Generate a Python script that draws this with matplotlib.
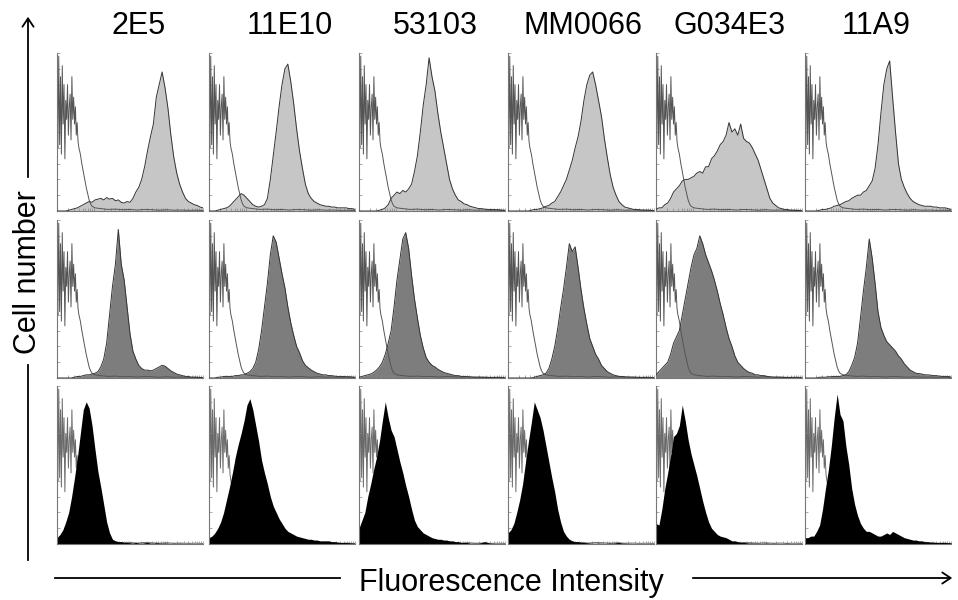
import numpy as np
import matplotlib
matplotlib.use("Agg")
import matplotlib.pyplot as plt

plt.rcParams['font.family'] = ['Liberation Sans', 'DejaVu Sans']

# antibody clones (columns)
clones = ["2E5", "11E10", "53103", "MM0066", "G034E3", "11A9"]

# fluorescence channel (fraction of the log axis), shared by every histogram
channel = np.linspace(0, 1, 51)

# isotype control (open histogram), same in every panel
ctrl_x = [0.000, 0.006, 0.012, 0.018, 0.024, 0.030, 0.036, 0.042, 0.048, 0.054,
          0.060, 0.066, 0.072, 0.078, 0.084, 0.090, 0.096, 0.102, 0.108, 0.114,
          0.120, 0.126, 0.132, 0.138, 0.144, 0.150, 0.160, 0.170, 0.180, 0.190,
          0.200, 0.210, 0.220, 0.230, 0.240, 0.260, 0.300, 0.350, 0.400, 0.450,
          0.500, 0.550, 0.600, 0.650, 0.700, 0.750, 0.800, 0.850, 0.900, 0.950, 1.000]
ctrl_y = [0.45, 0.40, 0.98, 0.42, 0.85, 0.36, 0.92, 0.55, 0.80, 0.33,
          0.70, 0.58, 0.80, 0.48, 0.66, 0.74, 0.45, 0.85, 0.58, 0.72,
          0.55, 0.66, 0.48, 0.56, 0.44, 0.40, 0.36, 0.30, 0.25, 0.20,
          0.15, 0.11, 0.07, 0.045, 0.03, 0.02, 0.015, 0.01, 0.012, 0.008,
          0.01, 0.006, 0.01, 0.008, 0.005, 0.008, 0.005, 0.006, 0.004, 0.005, 0.003]

# row 1: light grey histograms
row1 = {
    "2E5": [0, 0, 0, 0, 0.005, 0.01, 0.015, 0.02, 0.03, 0.04,
            0.05, 0.06, 0.055, 0.07, 0.075, 0.08, 0.07, 0.085, 0.075, 0.08,
            0.065, 0.07, 0.055, 0.05, 0.06, 0.055, 0.08, 0.12, 0.15, 0.2,
            0.28, 0.38, 0.47, 0.55, 0.72, 0.80, 0.88, 0.78, 0.65, 0.48,
            0.34, 0.24, 0.17, 0.12, 0.08, 0.06, 0.05, 0.04, 0.035, 0.025, 0.02],
    "11E10": [0, 0, 0, 0.005, 0.01, 0.015, 0.02, 0.03, 0.05, 0.07,
              0.09, 0.11, 0.10, 0.08, 0.06, 0.04, 0.03, 0.025, 0.03, 0.04,
              0.08, 0.20, 0.35, 0.50, 0.66, 0.80, 0.90, 0.93, 0.82, 0.68,
              0.52, 0.38, 0.27, 0.17, 0.11, 0.08, 0.06, 0.05, 0.04, 0.035,
              0.03, 0.03, 0.025, 0.025, 0.02, 0.02, 0.02, 0.02, 0.015, 0.015, 0.01],
    "53103": [0, 0, 0, 0, 0, 0, 0, 0.005, 0.01, 0.02,
              0.04, 0.08, 0.10, 0.12, 0.11, 0.13, 0.12, 0.14, 0.17, 0.25,
              0.35, 0.50, 0.67, 0.80, 0.97, 0.85, 0.76, 0.62, 0.50, 0.40,
              0.30, 0.20, 0.14, 0.10, 0.07, 0.06, 0.045, 0.04, 0.03, 0.025,
              0.02, 0.015, 0.015, 0.012, 0.01, 0.01, 0.01, 0.008, 0.008, 0.005, 0.005],
    "MM0066": [0, 0, 0, 0, 0, 0, 0, 0, 0.005, 0.01,
               0.01, 0.015, 0.02, 0.03, 0.035, 0.05, 0.06, 0.09, 0.12, 0.16,
               0.20, 0.26, 0.32, 0.40, 0.47, 0.57, 0.70, 0.80, 0.86, 0.88,
               0.80, 0.70, 0.60, 0.46, 0.34, 0.23, 0.15, 0.10, 0.06, 0.04,
               0.025, 0.02, 0.015, 0.01, 0.01, 0.008, 0.006, 0.005, 0.005, 0.004, 0.003],
    "G034E3": [0.01, 0.02, 0.02, 0.04, 0.05, 0.08, 0.12, 0.14, 0.16, 0.19,
               0.20, 0.20, 0.21, 0.22, 0.24, 0.25, 0.24, 0.28, 0.28, 0.33,
               0.35, 0.38, 0.42, 0.44, 0.48, 0.56, 0.50, 0.52, 0.48, 0.55,
               0.46, 0.44, 0.43, 0.40, 0.36, 0.32, 0.26, 0.20, 0.14, 0.08,
               0.05, 0.035, 0.02, 0.015, 0.01, 0.01, 0.005, 0.005, 0.003, 0.003, 0.002],
    "11A9": [0, 0, 0, 0, 0, 0.005, 0.01, 0.01, 0.015, 0.02,
             0.03, 0.035, 0.04, 0.05, 0.06, 0.065, 0.08, 0.09, 0.10, 0.10,
             0.12, 0.13, 0.16, 0.19, 0.27, 0.42, 0.62, 0.80, 0.90, 0.95,
             0.72, 0.50, 0.30, 0.20, 0.15, 0.11, 0.08, 0.06, 0.05, 0.04,
             0.035, 0.03, 0.03, 0.03, 0.025, 0.025, 0.02, 0.02, 0.02, 0.015, 0.01],
}

# row 2: dark grey histograms
row2 = {
    "2E5": [0, 0, 0, 0, 0, 0, 0.005, 0.01, 0.01, 0.015,
            0.02, 0.02, 0.025, 0.03, 0.04, 0.07, 0.12, 0.22, 0.40, 0.58,
            0.72, 0.94, 0.72, 0.62, 0.45, 0.28, 0.17, 0.12, 0.08, 0.06,
            0.05, 0.05, 0.045, 0.05, 0.06, 0.07, 0.08, 0.075, 0.06, 0.045,
            0.035, 0.025, 0.02, 0.015, 0.01, 0.01, 0.005, 0.005, 0.004, 0.003, 0.002],
    "11E10": [0, 0, 0, 0.005, 0.005, 0.01, 0.01, 0.01, 0.01, 0.015,
              0.015, 0.02, 0.02, 0.03, 0.04, 0.06, 0.10, 0.18, 0.30, 0.45,
              0.60, 0.78, 0.90, 0.86, 0.76, 0.66, 0.57, 0.45, 0.35, 0.27,
              0.20, 0.16, 0.11, 0.08, 0.065, 0.05, 0.04, 0.03, 0.025, 0.02,
              0.02, 0.015, 0.015, 0.012, 0.01, 0.01, 0.01, 0.008, 0.008, 0.006, 0.005],
    "53103": [0.005, 0.01, 0.015, 0.02, 0.025, 0.035, 0.05, 0.07, 0.10, 0.15,
              0.22, 0.30, 0.45, 0.62, 0.75, 0.88, 0.92, 0.82, 0.65, 0.50,
              0.38, 0.27, 0.19, 0.13, 0.10, 0.08, 0.07, 0.055, 0.045, 0.035,
              0.03, 0.025, 0.02, 0.015, 0.015, 0.01, 0.01, 0.008, 0.006, 0.005,
              0.005, 0.005, 0.004, 0.004, 0.003, 0.003, 0.003, 0.002, 0.002, 0.002, 0.002],
    "MM0066": [0, 0, 0, 0, 0, 0, 0, 0, 0, 0.005,
               0.01, 0.015, 0.02, 0.03, 0.06, 0.12, 0.20, 0.31, 0.44, 0.56,
               0.70, 0.85, 0.80, 0.83, 0.70, 0.56, 0.44, 0.34, 0.25, 0.20,
               0.15, 0.12, 0.08, 0.06, 0.04, 0.03, 0.02, 0.015, 0.01, 0.01,
               0.008, 0.006, 0.005, 0.005, 0.004, 0.004, 0.003, 0.003, 0.002, 0.002, 0.002],
    "G034E3": [0.02, 0.04, 0.06, 0.08, 0.10, 0.15, 0.22, 0.26, 0.30, 0.40,
               0.50, 0.60, 0.70, 0.78, 0.82, 0.90, 0.85, 0.78, 0.73, 0.68,
               0.62, 0.55, 0.47, 0.40, 0.32, 0.25, 0.20, 0.14, 0.10, 0.08,
               0.06, 0.045, 0.035, 0.03, 0.02, 0.02, 0.015, 0.015, 0.01, 0.008,
               0.006, 0.005, 0.005, 0.004, 0.003, 0.003, 0.003, 0.002, 0.002, 0.002, 0.002],
    "11A9": [0, 0, 0, 0, 0, 0.005, 0.005, 0.005, 0.008, 0.008,
             0.01, 0.01, 0.01, 0.015, 0.02, 0.04, 0.08, 0.13, 0.22, 0.38,
             0.55, 0.70, 0.88, 0.76, 0.60, 0.42, 0.32, 0.27, 0.23, 0.21,
             0.19, 0.17, 0.14, 0.12, 0.09, 0.07, 0.05, 0.04, 0.03, 0.028,
             0.025, 0.02, 0.02, 0.018, 0.015, 0.015, 0.012, 0.01, 0.01, 0.01, 0.005],
}

# row 3: black histograms
row3 = {
    "2E5": [0.04, 0.06, 0.09, 0.14, 0.20, 0.30, 0.42, 0.55, 0.70, 0.85,
            0.90, 0.86, 0.75, 0.60, 0.46, 0.36, 0.25, 0.14, 0.07, 0.03,
            0.02, 0.015, 0.015, 0.01, 0.01, 0.008, 0.006, 0.01, 0.006, 0.005,
            0.008, 0.01, 0.006, 0.005, 0.008, 0.006, 0.005, 0.006, 0.005, 0.004,
            0.005, 0.004, 0.005, 0.004, 0.003, 0.004, 0.003, 0.003, 0.002, 0.002, 0.002],
    "11E10": [0.04, 0.05, 0.07, 0.10, 0.14, 0.20, 0.28, 0.36, 0.45, 0.55,
              0.63, 0.70, 0.78, 0.88, 0.92, 0.85, 0.75, 0.65, 0.53, 0.45,
              0.38, 0.30, 0.24, 0.20, 0.16, 0.13, 0.10, 0.08, 0.07, 0.06,
              0.05, 0.045, 0.04, 0.035, 0.03, 0.03, 0.025, 0.025, 0.02, 0.02,
              0.02, 0.02, 0.015, 0.015, 0.012, 0.01, 0.01, 0.01, 0.008, 0.006, 0.005],
    "53103": [0.10, 0.15, 0.20, 0.30, 0.38, 0.47, 0.55, 0.65, 0.78, 0.90,
              0.80, 0.72, 0.68, 0.60, 0.52, 0.45, 0.37, 0.30, 0.22, 0.15,
              0.11, 0.09, 0.07, 0.06, 0.05, 0.04, 0.035, 0.03, 0.03, 0.025,
              0.025, 0.02, 0.02, 0.015, 0.015, 0.01, 0.01, 0.01, 0.005, 0.005,
              0.005, 0.005, 0.01, 0.015, 0.01, 0.005, 0.004, 0.003, 0.002, 0.002, 0.002],
    "MM0066": [0.07, 0.09, 0.13, 0.20, 0.28, 0.38, 0.52, 0.65, 0.77, 0.90,
               0.85, 0.80, 0.72, 0.62, 0.52, 0.42, 0.33, 0.22, 0.14, 0.08,
               0.05, 0.03, 0.02, 0.015, 0.015, 0.01, 0.01, 0.008, 0.006, 0.005,
               0.005, 0.006, 0.005, 0.004, 0.005, 0.006, 0.005, 0.008, 0.01, 0.006,
               0.005, 0.004, 0.004, 0.003, 0.003, 0.003, 0.002, 0.002, 0.002, 0.002, 0.002],
    "G034E3": [0.13, 0.12, 0.22, 0.35, 0.45, 0.56, 0.68, 0.70, 0.75, 0.88,
               0.78, 0.66, 0.57, 0.50, 0.43, 0.35, 0.27, 0.20, 0.14, 0.10,
               0.08, 0.06, 0.05, 0.045, 0.04, 0.03, 0.02, 0.02, 0.015, 0.01,
               0.01, 0.008, 0.006, 0.006, 0.005, 0.005, 0.004, 0.005, 0.006, 0.004,
               0.005, 0.004, 0.004, 0.003, 0.004, 0.005, 0.003, 0.002, 0.002, 0.002, 0.002],
    "11A9": [0.04, 0.04, 0.05, 0.05, 0.08, 0.12, 0.22, 0.35, 0.47, 0.62,
             0.80, 0.95, 0.82, 0.78, 0.62, 0.50, 0.35, 0.25, 0.18, 0.13,
             0.10, 0.08, 0.08, 0.07, 0.06, 0.05, 0.05, 0.06, 0.07, 0.06,
             0.08, 0.07, 0.06, 0.05, 0.04, 0.035, 0.03, 0.025, 0.025, 0.02,
             0.02, 0.015, 0.015, 0.012, 0.012, 0.01, 0.01, 0.01, 0.01, 0.008, 0.008],
}

rows = [row1, row2, row3]
fill_colors = ["#c6c6c6", "#7d7d7d", "#000000"]

W, H = 958, 600
fig = plt.figure(figsize=(W / 100, H / 100), dpi=100)

panel_left = [57, 209, 359, 508, 656, 805]
panel_w = 146
row_top = [53, 220, 386]
panel_h = 158

# log-decade style ticks along the fluorescence axis
xt = [(d + np.log10(k)) / 4 for d in range(4) for k in range(1, 10)] + [1.0]
yt = np.linspace(0, 1, 11)

for r, data in enumerate(rows):
    for c, name in enumerate(clones):
        ax = fig.add_axes([panel_left[c] / W, 1 - (row_top[r] + panel_h) / H,
                           panel_w / W, panel_h / H])
        y = np.array(data[name])
        if r == 2:
            ax.plot(ctrl_x, ctrl_y, color="#6a6a6a", lw=0.7, zorder=1)
            ax.fill_between(channel, 0, y, color=fill_colors[r], lw=0, zorder=2)
        else:
            ax.fill_between(channel, 0, y, color=fill_colors[r], lw=0, zorder=1)
            ax.plot(ctrl_x, ctrl_y, color="#555555", lw=0.7, zorder=2)
            ax.plot(channel, y, color="#333333", lw=0.7, zorder=3)
        ax.set_xlim(0, 1)
        ax.set_ylim(0, 1)
        for s in ["top", "right"]:
            ax.spines[s].set_visible(False)
        for s in ["left", "bottom"]:
            ax.spines[s].set_color("#777777")
            ax.spines[s].set_linewidth(0.8)
        ax.set_xticks(xt)
        ax.set_yticks(yt)
        ax.tick_params(direction="in", length=2, width=0.5, colors="#888888",
                       labelbottom=False, labelleft=False)

# column titles
title_x = [139, 290, 435, 583, 730, 876]
for name, tx in zip(clones, title_x):
    fig.text(tx / W, 1 - 34 / H, name, fontsize=22, ha="center", va="baseline")

# y axis label with arrow
fig.text(28 / W, 1 - 272 / H, "Cell number", fontsize=22, rotation=90,
         ha="center", va="center")
fig.add_artist(plt.Line2D([28 / W, 28 / W], [1 - 560 / H, 1 - 365 / H],
                          color="black", lw=1.3))
fig.patches.append(matplotlib.patches.FancyArrowPatch(
    (28 / W, 1 - 180 / H), (28 / W, 1 - 14 / H), transform=fig.transFigure,
    arrowstyle="->,head_length=6,head_width=4", color="black", lw=1.3))

# x axis label with arrow
fig.text(511 / W, 1 - 583 / H, "Fluorescence Intensity", fontsize=22,
         ha="center", va="center")
fig.add_artist(plt.Line2D([55 / W, 340 / W], [1 - 578 / H, 1 - 578 / H],
                          color="black", lw=1.3))
fig.patches.append(matplotlib.patches.FancyArrowPatch(
    (690 / W, 1 - 578 / H), (955 / W, 1 - 578 / H), transform=fig.transFigure,
    arrowstyle="->,head_length=6,head_width=4", color="black", lw=1.3))

fig.savefig("out.png", dpi=100)
